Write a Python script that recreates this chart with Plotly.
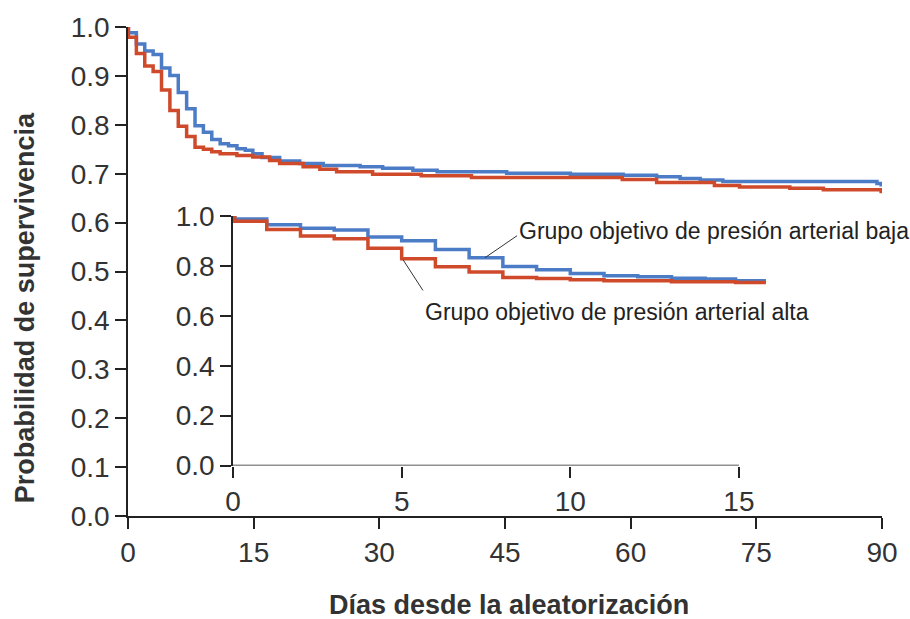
import plotly.graph_objects as go

# ---- data ----
blue_days = [0, 0.05, 1, 2, 3, 4, 5, 6, 7, 8, 9, 10, 11, 12, 13, 14, 14.9, 16.0, 18.1, 20.5,
             23.3, 27.7, 30.4, 34.0, 36.9, 45.2, 52.8, 59.1, 63.1, 65.9, 68.3, 71.0, 89.4, 89.9]
blue_surv = [1.0, 0.988, 0.965, 0.951, 0.944, 0.916, 0.901, 0.866, 0.833, 0.798, 0.785, 0.770,
             0.761, 0.757, 0.751, 0.748, 0.741, 0.733, 0.726, 0.721, 0.717, 0.714, 0.711, 0.707,
             0.704, 0.701, 0.699, 0.697, 0.694, 0.690, 0.687, 0.684, 0.680, 0.674]

red_days = [0, 0.05, 1, 2, 3, 4, 5, 6, 7, 8, 9, 10, 11, 13, 14.9, 16.9, 18.1, 20.9, 22.9, 24.9,
            29.2, 35.0, 41.0, 59.0, 63.1, 70.0, 73.0, 79.0, 83.0, 89.9]
red_surv = [1.0, 0.979, 0.946, 0.920, 0.909, 0.871, 0.829, 0.797, 0.776, 0.754, 0.750, 0.745,
            0.741, 0.737, 0.734, 0.727, 0.721, 0.714, 0.709, 0.704, 0.699, 0.696, 0.692, 0.688,
            0.682, 0.676, 0.673, 0.670, 0.667, 0.660]

main_xticks = [0, 15, 30, 45, 60, 75, 90]
main_yticks = [0.0, 0.1, 0.2, 0.3, 0.4, 0.5, 0.6, 0.7, 0.8, 0.9, 1.0]
inset_xticks = [0, 5, 10, 15]
inset_yticks = [0.0, 0.2, 0.4, 0.6, 0.8, 1.0]
inset_end = 15.8

label_low = "Grupo objetivo de presión arterial baja"
label_high = "Grupo objetivo de presión arterial alta"
x_title = "Días desde la aleatorización"
y_title = "Probabilidad de supervivencia"

BLUE = "#4d7cc6"
RED = "#cf4a2b"
AX = "#222222"
TXT = "#333333"
FONT = "Liberation Sans, Arial, sans-serif"


def clip(days, surv, end):
    xs, ys = [], []
    for d, s in zip(days, surv):
        if d <= end:
            xs.append(d)
            ys.append(s)
    xs.append(end)
    ys.append(ys[-1])
    return xs, ys


fig = go.Figure()
fig.add_trace(go.Scatter(x=blue_days, y=blue_surv, mode="lines", hoverinfo="skip",
                         line=dict(shape="hv", color=BLUE, width=3.5), xaxis="x", yaxis="y"))
fig.add_trace(go.Scatter(x=red_days, y=red_surv, mode="lines", hoverinfo="skip",
                         line=dict(shape="hv", color=RED, width=3.5), xaxis="x", yaxis="y"))
bx, by = clip(blue_days, blue_surv, inset_end)
rx, ry = clip(red_days, red_surv, inset_end)
fig.add_trace(go.Scatter(x=bx, y=by, mode="lines", hoverinfo="skip",
                         line=dict(shape="hv", color=BLUE, width=3.5), xaxis="x2", yaxis="y2"))
fig.add_trace(go.Scatter(x=rx, y=ry, mode="lines", hoverinfo="skip",
                         line=dict(shape="hv", color=RED, width=3.5), xaxis="x2", yaxis="y2"))

tickfont = dict(family=FONT, size=28, color=TXT)
common = dict(showgrid=False, zeroline=False, ticks="outside", ticklen=11,
              tickcolor=AX, tickwidth=1.5, tickfont=tickfont)

fig.update_layout(
    width=910, height=619,
    margin=dict(l=128, r=28, t=22, b=103),
    paper_bgcolor="white", plot_bgcolor="rgba(0,0,0,0)",
    showlegend=False,
    font=dict(family=FONT),
    xaxis=dict(domain=[0, 1], range=[0, 90], tickvals=main_xticks, anchor="y",
               showline=True, linecolor=AX, linewidth=1.5, **common),
    yaxis=dict(domain=[0, 1], range=[0, 1], tickvals=main_yticks, tickformat=".1f",
               anchor="x", showline=True, linecolor=AX, linewidth=1.5, **common),
    xaxis2=dict(domain=[0.1393, 0.855], range=[0, 16], tickvals=inset_xticks, anchor="y2",
                showline=False, **common),
    yaxis2=dict(domain=[0.1032, 0.6134], range=[0, 1], tickvals=inset_yticks,
                tickformat=".1f", anchor="x2", showline=True, linecolor=AX,
                linewidth=1.5, **common),
)

# inset x axis line (only up to 15 days)
fig.add_shape(type="line", xref="x2", yref="y2", x0=0, x1=15, y0=0, y1=0,
              line=dict(color=AX, width=1.5))
# leader lines
fig.add_shape(type="line", xref="x2", yref="y2", x0=7.47, y0=0.833, x1=8.42, y1=0.921,
              line=dict(color=TXT, width=1))
fig.add_shape(type="line", xref="x2", yref="y2", x0=5.04, y0=0.825, x1=5.63, y1=0.702,
              line=dict(color=TXT, width=1))

fig.add_annotation(x=8.42, y=0.94, xref="x2", yref="y2", text=label_low, showarrow=False,
                   xanchor="left", yanchor="middle",
                   font=dict(family=FONT, size=23, color="#222222"))
fig.add_annotation(x=5.63, y=0.615, xref="x2", yref="y2", text=label_high, showarrow=False,
                   xanchor="left", yanchor="middle",
                   font=dict(family=FONT, size=23, color="#222222"))

fig.add_annotation(x=-0.1366, y=0.425, xref="paper", yref="paper", text=y_title,
                   textangle=-90, showarrow=False, xanchor="center", yanchor="middle",
                   font=dict(family=FONT, size=27, color=TXT, weight="bold"))
fig.add_annotation(x=0.505, y=-0.182, xref="paper", yref="paper", text=x_title,
                   showarrow=False, xanchor="center", yanchor="middle",
                   font=dict(family=FONT, size=27, color=TXT, weight="bold"))

fig.write_html("out.html", config={"displayModeBar": False},
               post_script="document.body.style.margin='0';document.body.style.overflow='hidden';")
